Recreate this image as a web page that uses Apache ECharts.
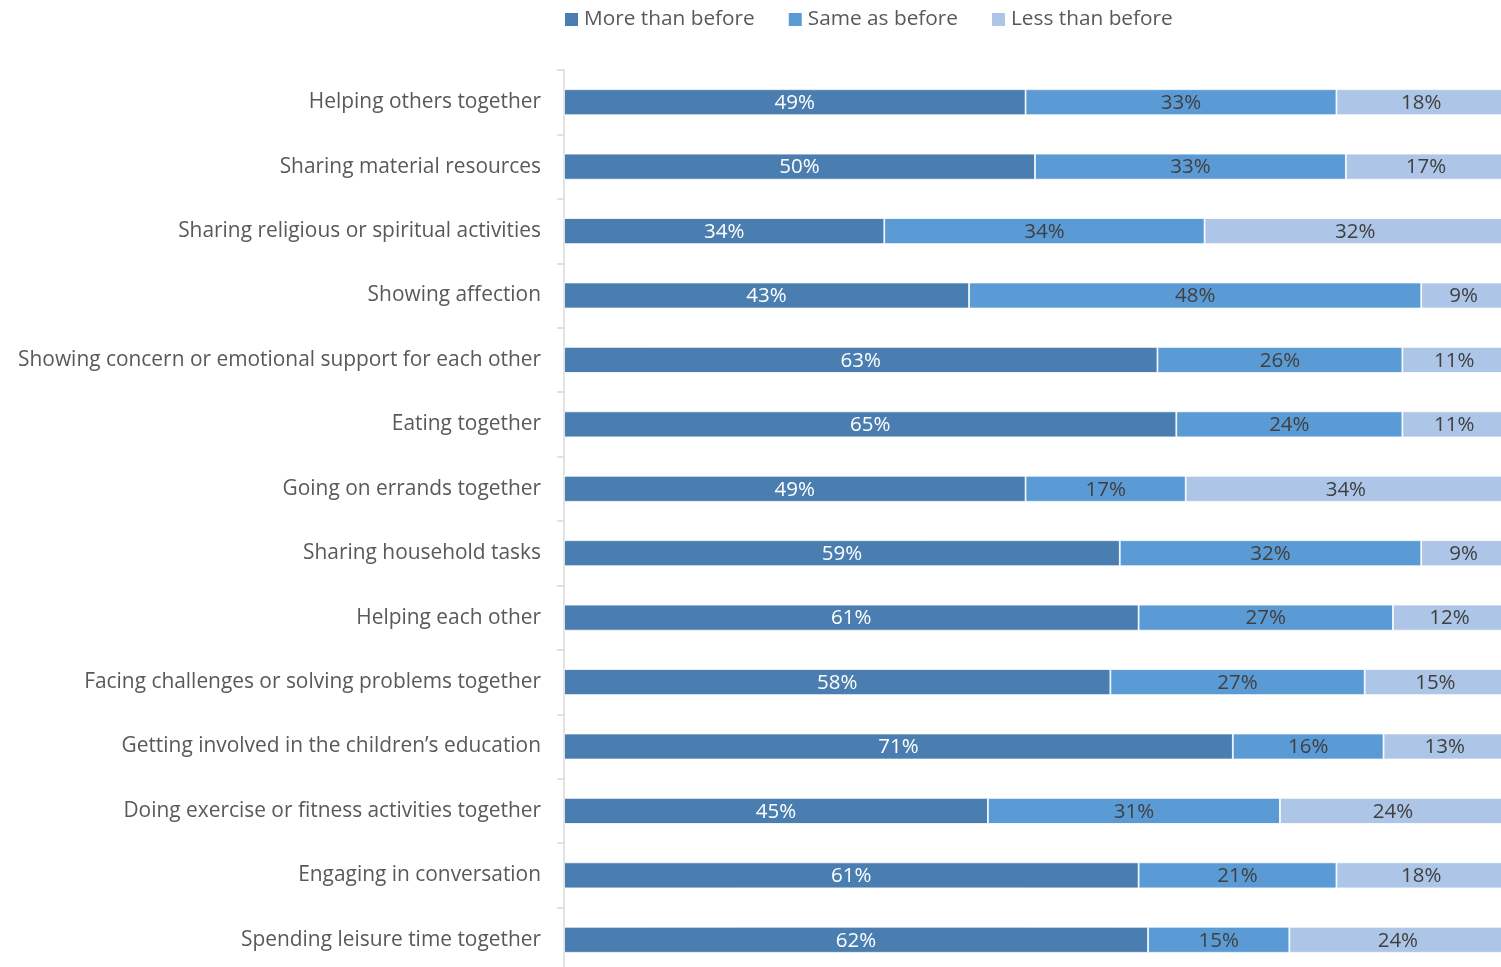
<!DOCTYPE html>
<html>
<head>
<meta charset="utf-8">
<script src="https://cdn.jsdelivr.net/npm/echarts@6/dist/echarts.min.js"></script>
<style>
  html, body { margin: 0; padding: 0; background: #fff; }
  #chart { width: 1501px; height: 967px; }
</style>
</head>
<body>
<div id="chart"></div>
<script>
const categories = [
  'Helping others together',
  'Sharing material resources',
  'Sharing religious or spiritual activities',
  'Showing affection',
  'Showing concern or emotional support for each other',
  'Eating together',
  'Going on errands together',
  'Sharing household tasks',
  'Helping each other',
  'Facing challenges or solving problems together',
  'Getting involved in the children\u2019s education',
  'Doing exercise or fitness activities together',
  'Engaging in conversation',
  'Spending leisure time together'
];
const moreThanBefore = [49, 50, 34, 43, 63, 65, 49, 59, 61, 58, 71, 45, 61, 62];
const sameAsBefore   = [33, 33, 34, 48, 26, 24, 17, 32, 27, 27, 16, 31, 21, 15];
const lessThanBefore = [18, 17, 32,  9, 11, 11, 34,  9, 12, 15, 13, 24, 18, 24];
const seriesNames = ['More than before', 'Same as before', 'Less than before'];

const FONT = 'Open Sans';
const colors = ['#4a7eb0', '#5b9bd5', '#adc5e7'];
const labelColors = ['#ffffff', '#404040', '#404040'];

function makeSeries(name, data, i) {
  return {
    name: name,
    type: 'bar',
    stack: 'total',
    data: data,
    barWidth: 26,
    itemStyle: { color: colors[i], borderColor: '#ffffff', borderWidth: 0.8 },
    label: {
      show: true,
      position: 'inside',
      offset: [0, 1],
      formatter: '{c}%',
      color: labelColors[i],
      fontFamily: FONT,
      fontSize: 20.5
    },
    emphasis: { disabled: true }
  };
}

const chart = echarts.init(document.getElementById('chart'));
chart.setOption({
  animation: false,
  color: colors,
  legend: {
    top: 4,
    left: 558,
    itemWidth: 15,
    itemHeight: 15,
    itemGap: 32,
    icon: 'rect',
    textStyle: { fontFamily: FONT, fontSize: 20.8, color: '#595959' },
    data: seriesNames
  },
  grid: {
    left: 564, right: -5, top: 70, height: 902,
    outerBoundsMode: 'none', containLabel: false
  },
  xAxis: {
    type: 'value',
    min: 0,
    max: 100,
    show: false
  },
  yAxis: {
    type: 'category',
    inverse: true,
    data: categories,
    axisLine: { show: true, lineStyle: { color: '#d9d9d9', width: 1.5 } },
    axisTick: { show: true, length: 7, lineStyle: { color: '#d9d9d9', width: 1.5 } },
    axisLabel: {
      fontFamily: FONT, fontSize: 20.9, color: '#595959', margin: 23,
      padding: [3, 0, 0, 0]
    }
  },
  series: [
    makeSeries(seriesNames[0], moreThanBefore, 0),
    makeSeries(seriesNames[1], sameAsBefore, 1),
    makeSeries(seriesNames[2], lessThanBefore, 2)
  ]
});
</script>
</body>
</html>
